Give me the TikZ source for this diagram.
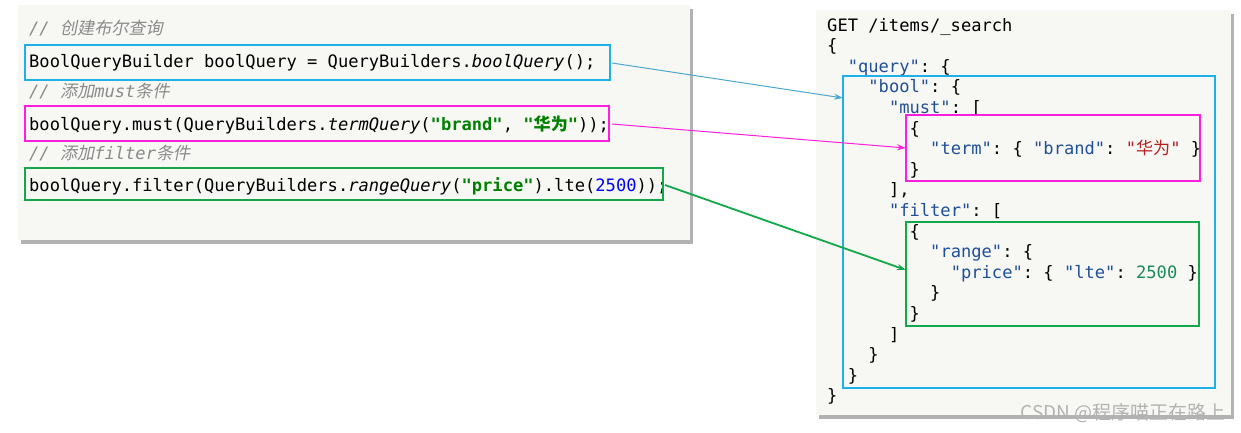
\documentclass[tikz,border=0pt]{standalone}
\usepackage{fontspec}
\setmonofont{DejaVu Sans Mono}
\newfontfamily\cjk{Noto Sans CJK SC}
\newfontfamily\cjki{Noto Sans CJK SC}[FakeSlant=0.2]
\usetikzlibrary{arrows.meta}
\definecolor{bgp}{HTML}{F7F8F4}
\definecolor{cblue}{HTML}{1EB0E8}
\definecolor{cmag}{HTML}{FF1EE0}
\definecolor{cgreen}{HTML}{12A84A}
\definecolor{ablue}{HTML}{4BA8D0}
\definecolor{jkey}{HTML}{1F4E9A}
\definecolor{jstr}{HTML}{B52020}
\definecolor{jnum}{HTML}{1A8A5A}
\definecolor{cstr}{HTML}{008000}
\definecolor{cmt}{HTML}{8A8A8A}
\newcommand\jk[1]{\textcolor{jkey}{#1}}
\begin{document}
\begin{tikzpicture}[x=1pt,y=-1pt,
  code/.style={anchor=base west,inner sep=0pt,font=\ttfamily\fontsize{17.1}{18}\selectfont},
  cmtx/.style={code,text=cmt,font=\ttfamily\itshape\fontsize{17.1}{18}\selectfont},
  panel/.style={fill=bgp,draw=none},
  shadow/.style={fill=black!30,draw=none},
  hl/.style={line width=1.3pt},
  arr/.style={-{Stealth[length=9pt,width=6pt]},line width=1.4pt}]
\useasboundingbox (0,0) rectangle (1241,432);
% panels
\fill[shadow] (21,9) rectangle (693,244);
\fill[panel] (18,5) rectangle (690,240);
\fill[shadow] (819,14) rectangle (1234,419);
\fill[panel] (816,10) rectangle (1231,415);
% left code
\node[cmtx] (c1) at (29,34) {// {\cjki 创建布尔查询}};
\node[code] (l1) at (29,67) {BoolQueryBuilder boolQuery = QueryBuilders.\textit{boolQuery}();};
\node[cmtx] (c2) at (29,97) {// {\cjki 添加}must{\cjki 条件}};
\node[code] (l2) at (29,130) {boolQuery.must(QueryBuilders.\textit{termQuery}(\textcolor{cstr}{\textbf{"brand"}}, \textcolor{cstr}{\textbf{"{\cjk\bfseries 华为}"}}));};
\node[cmtx] (c3) at (29,159) {// {\cjki 添加}filter{\cjki 条件}};
\node[code] (l3) at (29,191) {boolQuery.filter(QueryBuilders.\textit{rangeQuery}(\textcolor{cstr}{\textbf{"price"}}).lte(\textcolor{blue}{2500}));};
\draw[cblue,hl] (25,45) rectangle (610,80);
\draw[cmag,hl] (25,106) rectangle (609,141);
\draw[cgreen,hl] (25,168) rectangle (663,200);
% right json
\foreach \i/\x/\t in {
 0/0/{GET /items/\_search},
 1/0/{\{},
 2/2/{\jk{"query"}: \{},
 3/4/{\jk{"bool"}: \{},
 4/6/{\jk{"must"}: [},
 5/8/{\{},
 6/10/{\jk{"term"}: \{ \jk{"brand"}: \textcolor{jstr}{"{\cjk 华为}"} \}},
 7/8/{\}},
 8/6/{],},
 9/6/{\jk{"filter"}: [},
 10/8/{\{},
 11/10/{\jk{"range"}: \{},
 12/12/{\jk{"price"}: \{ \jk{"lte"}: \textcolor{jnum}{2500} \}},
 13/10/{\}},
 14/8/{\}},
 15/6/{]},
 16/4/{\}},
 17/2/{\}},
 18/0/{\}}}
 \node[code] (j\i) at ({827+\x*10.3},{31+\i*20.6}) {\t};
\draw[cblue,hl] (843,76) rectangle (1215,388);
\draw[cmag,hl] (906,115) rectangle (1200,181);
\draw[cgreen,hl] (906,222) rectangle (1199,326);
\coordinate (bl) at (843,98);
\coordinate (ml) at (906,148);
\coordinate (gl) at (906,270);
\coordinate (l1e) at (612,63);
\coordinate (l2e) at (612,124);
\coordinate (l3e) at (665,185);
\draw[arr,ablue,line width=1pt] (l1e) -- (bl);
\draw[arr,cmag,line width=1pt] (l2e) -- (ml);
\draw[arr,cgreen,line width=1.8pt] (l3e) -- (gl);
\node[anchor=base east,inner sep=0pt,text=black!30,font=\fontsize{19}{20}\selectfont\cjk] (wm) at (1226,419) {CSDN @程序喵正在路上};
\end{tikzpicture}
\end{document}
